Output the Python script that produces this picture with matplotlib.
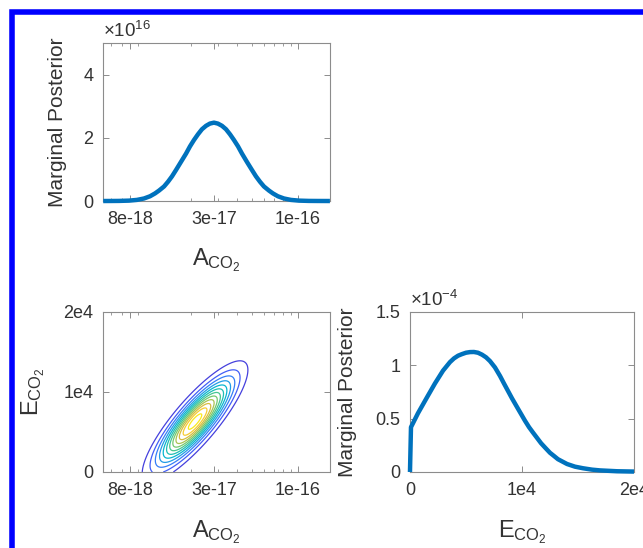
import numpy as np
import matplotlib.pyplot as plt
from matplotlib.colors import LinearSegmentedColormap
from matplotlib.patches import Rectangle
from matplotlib.ticker import FixedLocator, NullFormatter

plt.rcParams['font.family'] = ['Liberation Sans', 'DejaVu Sans']

# marginal posterior of A_CO2 (values in units of 1e16)
a_vals = [5.3e-18, 6.0e-18, 6.73e-18, 7.82e-18, 8.82e-18, 9.81e-18, 1.074e-17, 1.158e-17,
          1.230e-17, 1.327e-17, 1.409e-17, 1.496e-17, 1.589e-17, 1.714e-17, 1.849e-17,
          1.963e-17, 2.084e-17, 2.213e-17, 2.350e-17, 2.50e-17, 2.65e-17, 2.818e-17,
          2.99e-17, 3.18e-17, 3.38e-17, 3.59e-17, 3.81e-17, 4.05e-17, 4.30e-17, 4.63e-17,
          5.00e-17, 5.31e-17, 5.64e-17, 5.99e-17, 6.46e-17, 6.86e-17, 7.39e-17, 8.10e-17,
          8.99e-17, 1.016e-16, 1.18e-16, 1.35e-16, 1.62e-16]
post_a = [0, 0.001, 0.003, 0.012, 0.035, 0.08, 0.15, 0.24,
          0.33, 0.46, 0.61, 0.78, 0.98, 1.24, 1.50,
          1.73, 1.93, 2.11, 2.27, 2.38, 2.45, 2.48,
          2.45, 2.38, 2.27, 2.11, 1.93, 1.73, 1.50, 1.24,
          0.98, 0.78, 0.61, 0.46, 0.33, 0.24, 0.15, 0.08,
          0.035, 0.012, 0.003, 0.001, 0]

# marginal posterior of E_CO2 (values in units of 1e-4)
e_vals = [0, 90, 710, 1520, 2230, 2950, 3570, 3930, 4290, 4640, 5000, 5360, 5710,
          6070, 6430, 6790, 7140, 7590, 8040, 8390, 8750, 9110, 9550, 9910, 10270,
          10630, 10980, 11340, 11700, 12140, 12500, 12860, 13210, 13660, 14020, 14730,
          15450, 16250, 16960, 18480, 20000]
post_e = [0, 0.42, 0.55, 0.70, 0.83, 0.95, 1.03, 1.065, 1.09, 1.105, 1.118, 1.124, 1.125,
          1.118, 1.10, 1.075, 1.04, 0.98, 0.90, 0.83, 0.76, 0.69, 0.61, 0.545, 0.48,
          0.42, 0.37, 0.32, 0.27, 0.22, 0.18, 0.15, 0.12, 0.095, 0.075, 0.05,
          0.035, 0.022, 0.015, 0.007, 0.004]

# joint posterior (log10 A, E/1e4)
joint_center = (-16.674, 0.63)
joint_spread = (0.154, 0.338)
joint_corr = 0.85
contour_levels = [0.08, 0.16, 0.24, 0.32, 0.40, 0.48, 0.56, 0.64, 0.72, 0.80, 0.88, 0.96]

a_ticks = [10 ** -17.1, 10 ** -16.55, 10 ** -16.0]
a_ticklabels = ['8e-18', '3e-17', '1e-16']
a_lim = (10 ** -17.277, 10 ** -15.79)

parula = LinearSegmentedColormap.from_list('parula', [
    (0.2422, 0.1504, 0.6603), (0.2803, 0.2782, 0.9221), (0.2440, 0.4358, 0.9988),
    (0.1540, 0.5902, 0.9218), (0.0297, 0.7082, 0.8163), (0.1540, 0.7570, 0.6720),
    (0.3598, 0.7880, 0.4941), (0.6116, 0.7739, 0.3466), (0.8438, 0.7398, 0.2464),
    (0.9892, 0.8136, 0.1885), (0.9763, 0.9831, 0.0538)])

blue = '#0072BD'
grey = '#8c8c8c'
txt = '#333333'

fig = plt.figure(figsize=(6.43, 5.48), dpi=100)
ax1 = fig.add_axes([0.1602, 0.6332, 0.3530, 0.2883])
ax2 = fig.add_axes([0.1602, 0.1387, 0.3530, 0.2920])
ax3 = fig.add_axes([0.6376, 0.1387, 0.3484, 0.2920])


def style(ax):
    for s in ax.spines.values():
        s.set_color(grey)
        s.set_linewidth(0.8)
    ax.tick_params(which='both', direction='in', top=True, right=True,
                   color=grey, labelcolor=txt, labelsize=13, pad=7)
    ax.tick_params(which='major', length=4, width=0.7)
    ax.tick_params(which='minor', length=2.5, width=0.6)


def log_a_axis(ax):
    ax.set_xscale('log')
    ax.set_xlim(*a_lim)
    ax.xaxis.set_major_locator(FixedLocator(a_ticks))
    ax.set_xticklabels(a_ticklabels)
    ax.xaxis.set_minor_formatter(NullFormatter())


# top: marginal of A
ax1.plot(a_vals, post_a, color=blue, lw=3.2, clip_on=False, zorder=3,
         solid_capstyle='butt', solid_joinstyle='round')
log_a_axis(ax1)
ax1.set_ylim(0, 5)
ax1.set_yticks([0, 2, 4])
ax1.set_yticklabels(['0', '2', '4'])
ax1.set_ylabel('Marginal Posterior', fontsize=15, color=txt)
ax1.yaxis.set_label_coords(-0.16, 0.5)
ax1.set_xlabel(r'$\mathregular{A_{CO_2}}$', fontsize=17, color=txt)
ax1.xaxis.set_label_coords(0.5, -0.29)
ax1.text(0.0, 1.01, r'$\mathregular{\times10^{16}}$', transform=ax1.transAxes,
         fontsize=13.5, color=txt, va='bottom', ha='left')
style(ax1)

# bottom left: joint contour
u = np.linspace(np.log10(a_lim[0]), np.log10(a_lim[1]), 500)
v = np.linspace(0, 2, 500)
U, V = np.meshgrid(u, v)
zu = (U - joint_center[0]) / joint_spread[0]
zv = (V - joint_center[1]) / joint_spread[1]
Z = np.exp(-(zu ** 2 - 2 * joint_corr * zu * zv + zv ** 2) / (2 * (1 - joint_corr ** 2)))
ax2.contour(10 ** U, V * 1e4, Z, levels=contour_levels, cmap=parula, vmin=0, vmax=1,
            linewidths=0.9)
log_a_axis(ax2)
ax2.set_ylim(0, 2e4)
ax2.set_yticks([0, 1e4, 2e4])
ax2.set_yticklabels(['0', '1e4', '2e4'])
ax2.set_xlabel(r'$\mathregular{A_{CO_2}}$', fontsize=17, color=txt)
ax2.xaxis.set_label_coords(0.5, -0.29)
ax2.set_ylabel(r'$\mathregular{E_{CO_2}}$', fontsize=17, color=txt)
ax2.yaxis.set_label_coords(-0.245, 0.5)
style(ax2)

# bottom right: marginal of E
ax3.plot(e_vals, post_e, color=blue, lw=3.2, clip_on=False, zorder=3,
         solid_capstyle='butt', solid_joinstyle='round')
ax3.set_xlim(0, 2e4)
ax3.set_xticks([0, 1e4, 2e4])
ax3.set_xticklabels(['0', '1e4', '2e4'])
ax3.set_ylim(0, 1.5)
ax3.set_yticks([0, 0.5, 1, 1.5])
ax3.set_yticklabels(['0', '0.5', '1', '1.5'])
ax3.set_ylabel('Marginal Posterior', fontsize=15, color=txt)
ax3.yaxis.set_label_coords(-0.235, 0.5)
ax3.set_xlabel(r'$\mathregular{E_{CO_2}}$', fontsize=17, color=txt)
ax3.xaxis.set_label_coords(0.5, -0.29)
ax3.text(0.0, 1.01, r'$\mathregular{\times10^{-4}}$', transform=ax3.transAxes,
         fontsize=13.5, color=txt, va='bottom', ha='left')
style(ax3)

# blue frame (cropped on right and bottom)
fig.patches.append(Rectangle((12.3 / 643, -0.1), 1.2, 1.1 - 12.5 / 548,
                             transform=fig.transFigure, fill=False,
                             edgecolor='#0000ff', linewidth=4))

fig.savefig('out.png', dpi=100)
